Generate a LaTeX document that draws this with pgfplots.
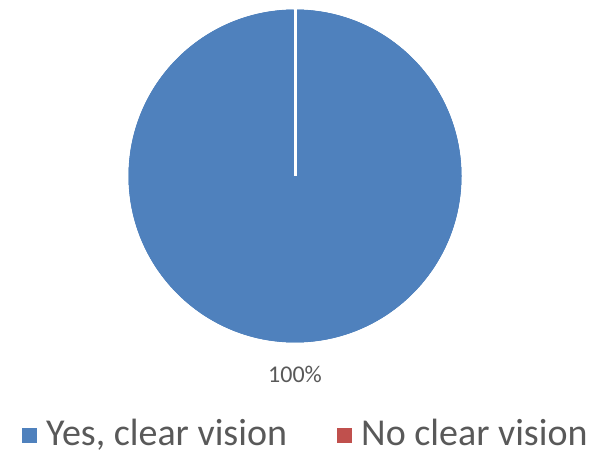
\documentclass[border=0pt]{standalone}
\usepackage{fontspec}
\setmainfont{Carlito}
\usepackage{pgfplots}
\usepackage{pgfplotstable}
\pgfplotsset{compat=1.18}
\definecolor{pieblue}{RGB}{79,129,189}
\definecolor{piered}{RGB}{192,80,77}
\definecolor{txtgray}{RGB}{89,89,89}

% share of answers (percent)
\pgfplotstableread{
label value
Yes 100
No 0
}\piedata

\begin{document}
\begin{tikzpicture}
\begin{axis}[
  scale only axis, width=599pt, height=455pt,
  xmin=0, xmax=599, ymin=0, ymax=455,
  hide axis, clip=false,
]
\pgfplotstablegetelem{0}{value}\of\piedata
\pgfmathsetmacro{\angyes}{3.6*\pgfplotsretval}
\pgfmathsetmacro{\endyes}{90-\angyes}
% yes slice (drawn clockwise from 12 o'clock, white border)
\filldraw[fill=pieblue, draw=white, line width=3pt, line join=round]
  (axis cs:295,279) -- (axis cs:295,447)
  arc[start angle=90, end angle=\endyes, radius=168pt] -- cycle;
% blue cover so only the radial border shows
\fill[pieblue] (axis cs:295,279) circle[radius=166.5pt];
\draw[white, line width=3pt] (axis cs:295,279) -- (axis cs:295,448);
\node[font=\fontsize{24}{28}\selectfont, text=txtgray, anchor=base, inner sep=0pt]
  at (axis cs:295,73) {100\%};
% legend
\fill[pieblue] (axis cs:22,12) rectangle (axis cs:37,27);
\node[font=\fontsize{38}{40}\selectfont, text=txtgray, anchor=base west, inner sep=0pt]
  at (axis cs:46,10) {Yes, clear vision};
\fill[piered] (axis cs:337,12) rectangle (axis cs:352,27);
\node[font=\fontsize{38}{40}\selectfont, text=txtgray, anchor=base west, inner sep=0pt]
  at (axis cs:361,10) {No clear vision};
\end{axis}
\pgfresetboundingbox
\useasboundingbox (current axis.south west) rectangle (current axis.north east);
\end{tikzpicture}
\end{document}
